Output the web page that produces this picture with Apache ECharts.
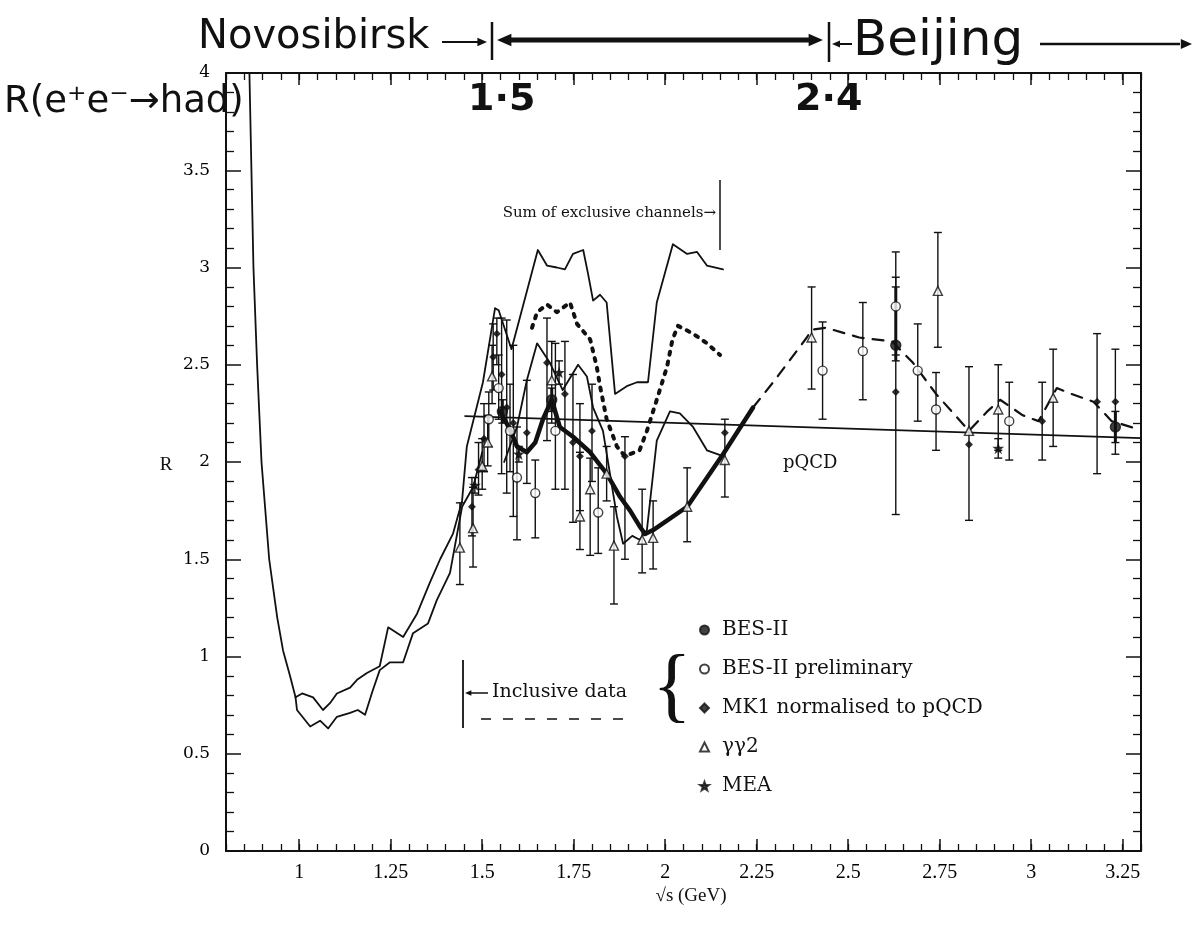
<!DOCTYPE html>
<html><head><meta charset="utf-8">
<script src="https://cdn.jsdelivr.net/npm/echarts@6/dist/echarts.min.js"></script>
<style>html,body{margin:0;padding:0;background:#fff}#c{width:1197px;height:925px}</style>
</head><body><div id="c"></div>
<script>
// ---------- axis ticks ----------
const xMajorTicks = [1, 1.25, 1.5, 1.75, 2, 2.25, 2.5, 2.75, 3, 3.25];
const yTickInterval = 0.5;

// ---------- curves ----------
const inclusiveSteep = [[0.864,4.0],[0.875,3.0],[0.885,2.5],[0.897,2.0],[0.918,1.5],[0.94,1.2],[0.956,1.03],[0.975,0.9],[0.99,0.79]];
const inclusiveUpper = [[0.99,0.79],[1.008,0.81],[1.038,0.79],[1.065,0.725],[1.084,0.76],[1.103,0.81],[1.139,0.84],[1.158,0.88],[1.185,0.915],[1.22,0.95],[1.243,1.15],[1.284,1.10],[1.322,1.22],[1.357,1.38],[1.385,1.50],[1.42,1.63],[1.445,1.80],[1.458,2.08],[1.502,2.41],[1.535,2.79]];
const inclusiveLower = [[0.99,0.79],[0.994,0.725],[1.03,0.64],[1.057,0.67],[1.079,0.63],[1.103,0.69],[1.139,0.71],[1.16,0.725],[1.18,0.70],[1.20,0.82],[1.22,0.93],[1.248,0.97],[1.284,0.97],[1.311,1.12],[1.352,1.17],[1.376,1.29],[1.412,1.43],[1.445,1.77],[1.475,1.87],[1.50,2.05]];
const exclusiveUpper = [[1.535,2.79],[1.545,2.78],[1.58,2.58],[1.652,3.09],[1.677,3.01],[1.704,3.0],[1.726,2.99],[1.748,3.07],[1.776,3.09],[1.789,2.97],[1.803,2.83],[1.822,2.86],[1.84,2.82],[1.863,2.35],[1.895,2.39],[1.923,2.41],[1.953,2.41],[1.977,2.82],[2.021,3.12],[2.06,3.07],[2.087,3.08],[2.114,3.01],[2.158,2.99]];
const exclusiveLower = [[1.56,2.0],[1.595,2.18],[1.622,2.42],[1.65,2.61],[1.685,2.51],[1.72,2.37],[1.762,2.50],[1.786,2.44],[1.803,2.28],[1.83,2.16],[1.849,1.94],[1.868,1.72],[1.885,1.58],[1.91,1.62],[1.93,1.60],[1.95,1.65],[1.977,2.11],[2.013,2.26],[2.04,2.25],[2.076,2.18],[2.114,2.06],[2.158,2.03]];
const exclusiveDotted = [[1.636,2.69],[1.65,2.77],[1.677,2.81],[1.704,2.77],[1.74,2.82],[1.759,2.71],[1.795,2.63],[1.813,2.49],[1.822,2.39],[1.84,2.22],[1.868,2.08],[1.89,2.03],[1.93,2.06],[1.95,2.16],[1.977,2.32],[2.005,2.49],[2.02,2.63],[2.035,2.70],[2.076,2.66],[2.114,2.61],[2.15,2.55]];
const besFit = [[1.55,2.26],[1.58,2.15],[1.595,2.08],[1.622,2.05],[1.645,2.10],[1.666,2.22],[1.69,2.32],[1.712,2.18],[1.748,2.13],[1.795,2.05],[1.84,1.94],[1.877,1.82],[1.904,1.75],[1.93,1.67],[1.945,1.63],[1.967,1.65],[2.06,1.77],[2.158,2.04],[2.24,2.28]];
const besFitDashed = [[2.24,2.28],[2.295,2.41],[2.387,2.64],[2.40,2.68],[2.44,2.69],[2.53,2.64],[2.62,2.62],[2.677,2.51],[2.74,2.35],[2.797,2.23],[2.83,2.16],[2.88,2.26],[2.915,2.32],[2.977,2.24],[3.02,2.21],[3.07,2.38],[3.11,2.35],[3.17,2.31],[3.22,2.21],[3.29,2.17]];
const pqcdLine = [[1.453,2.236],[3.3,2.123]];

// ---------- data points: [x, y, low, high] ----------
const besII = [[1.555,2.26,2.20,2.32],[1.69,2.32,2.26,2.38],[2.63,2.60,2.52,2.90],[3.23,2.18,2.10,2.26]];
const besIIPrelim = [[1.518,2.22,2.08,2.36],[1.545,2.38,2.22,2.55],[1.576,2.16,1.95,2.40],[1.595,1.92,1.60,2.18],[1.645,1.84,1.61,2.01],[1.70,2.16,1.86,2.61],[1.817,1.74,1.53,1.97],[2.43,2.47,2.22,2.72],[2.54,2.57,2.32,2.82],[2.63,2.80,2.55,3.08],[2.69,2.47,2.21,2.71],[2.74,2.27,2.06,2.46],[2.94,2.21,2.01,2.41]];
const mk1 = [[1.472,1.77,1.62,1.92],[1.49,1.96,1.83,2.10],[1.505,2.12,1.95,2.30],[1.53,2.54,2.37,2.71],[1.54,2.66,2.50,2.74],[1.553,2.45,1.94,2.74],[1.567,2.28,1.84,2.73],[1.585,2.20,1.72,2.60],[1.622,2.15,1.89,2.42],[1.677,2.51,2.11,2.74],[1.726,2.35,1.86,2.62],[1.748,2.10,1.69,2.45],[1.767,2.03,1.75,2.30],[1.80,2.16,1.90,2.40],[1.89,2.03,1.50,2.13],[2.163,2.15,2.15,2.15],[2.63,2.36,1.73,2.95],[2.83,2.09,1.70,2.49],[3.03,2.21,2.01,2.41],[3.18,2.31,1.94,2.66],[3.23,2.31,2.04,2.58]];
const gg2 = [[1.439,1.56,1.37,1.79],[1.475,1.66,1.46,1.87],[1.50,1.98,1.86,2.12],[1.515,2.10,1.98,2.24],[1.527,2.44,2.30,2.60],[1.69,2.42,2.20,2.62],[1.767,1.72,1.55,2.05],[1.795,1.86,1.52,2.02],[1.84,1.94,1.80,2.08],[1.86,1.57,1.27,1.77],[1.937,1.60,1.43,1.86],[1.967,1.61,1.45,1.80],[2.06,1.77,1.59,1.97],[2.163,2.01,1.82,2.22],[2.40,2.64,2.375,2.90],[2.745,2.88,2.59,3.18],[2.83,2.16,2.16,2.16],[2.91,2.27,2.06,2.50],[3.06,2.33,2.08,2.58]];
const mea = [[1.48,1.88,1.84,1.92],[1.60,2.04,2.00,2.08],[1.71,2.46,2.40,2.52],[2.91,2.07,2.02,2.12]];

// ---------- build ----------
const INK = '#111';
const SERIF = '"DejaVu Serif", serif';
const HAND = '"DejaVu Sans", sans-serif';
const STAR = 'path://M0,-10 L2.35,-3.24 9.51,-3.09 3.8,1.24 5.88,8.09 0,4 -5.88,8.09 -3.8,1.24 -9.51,-3.09 -2.35,-3.24Z';

function lineSeries(data, width, type, z) {
  return {type:'line', data, symbol:'none', silent:true, z:z||3, clip:true,
    lineStyle:{color:INK, width, type:type||'solid', cap:'round', join:'round'}};
}
function errSeries(data, w) {
  return {type:'custom', silent:true, z:4, data, encode:{x:0, y:[2,3]},
    renderItem(params, api) {
      const x = api.value(0), lo = api.value(2), hi = api.value(3);
      if (hi <= lo) return {type:'group', children:[]};
      const a = api.coord([x, lo]), b = api.coord([x, hi]);
      const st = {stroke:INK, lineWidth:w};
      return {type:'group', children:[
        {type:'line', shape:{x1:a[0], y1:a[1], x2:b[0], y2:b[1]}, style:st},
        {type:'line', shape:{x1:a[0]-4, y1:a[1], x2:a[0]+4, y2:a[1]}, style:{stroke:INK, lineWidth:1.4}},
        {type:'line', shape:{x1:b[0]-4, y1:b[1], x2:b[0]+4, y2:b[1]}, style:{stroke:INK, lineWidth:1.4}}
      ]};
    }};
}
function pts(arr){ return arr.map(d => [d[0], d[1]]); }
function scatter(name, arr, symbol, size, fill) {
  return {type:'scatter', name, data:pts(arr), symbol, symbolSize:size, z:6, silent:true,
    itemStyle:{color:fill, borderColor:INK, borderWidth:1.4}};
}

function xAx(pos, major) {
  const o = {type:'value', min:0.8, max:3.3, position:pos, splitLine:{show:false},
    axisLine:{show:major, onZero:false, lineStyle:{color:INK, width:2}}};
  if (major) {
    o.axisTick = {show:true, inside:true, length:12, customValues:xMajorTicks, lineStyle:{color:INK, width:1.5}};
    o.axisLabel = {show:pos==='bottom', customValues:xMajorTicks, margin:12, color:'#000',
      fontFamily:'"Liberation Serif", serif', fontSize:20};
  } else {
    o.interval = 0.05;
    o.axisTick = {show:true, inside:true, length:7, lineStyle:{color:INK, width:1.3}};
    o.axisLabel = {show:false};
  }
  return o;
}
function yAx(pos) {
  return {type:'value', min:0, max:4, interval:yTickInterval, position:pos, splitLine:{show:false},
    axisLine:{show:true, onZero:false, lineStyle:{color:INK, width:2}},
    axisTick:{show:true, inside:true, length:15, lineStyle:{color:INK, width:1.5}},
    minorTick:{show:true, splitNumber:5, length:8, lineStyle:{color:INK, width:1.3}},
    axisLabel:{show:pos==='left', margin:16, color:'#000', fontFamily:SERIF, fontSize:17}};
}

function arrowHead(x, y, dir, s) {
  return {type:'polygon', shape:{points:[[x,y],[x-dir*s*1.6,y-s*0.7],[x-dir*s*1.6,y+s*0.7]]}, style:{fill:INK}};
}
function gline(x1,y1,x2,y2,w,dash){ return {type:'line', shape:{x1,y1,x2,y2}, style:{stroke:INK, lineWidth:w, lineDash:dash||null}}; }
function gtext(text,x,y,font,align){ return {type:'text', x, y, style:{text, font, fill:INK, textAlign:align||'left', textVerticalAlign:'middle'}}; }

const chart = echarts.init(document.getElementById('c'), null, {renderer:'canvas'});
chart.setOption({
  animation:false,
  backgroundColor:'#fff',
  grid:{left:226, right:56, top:73, bottom:74},
  xAxis:[xAx('bottom',true), xAx('bottom',false), xAx('top',true), xAx('top',false)],
  yAxis:[yAx('left'), yAx('right')],
  legend:{orient:'vertical', left:694, top:615, itemGap:19, itemWidth:9, itemHeight:9,
    data:['BES-II','BES-II preliminary','MK1 normalised to pQCD','\u03b3\u03b32','MEA'],
    textStyle:{fontFamily:SERIF, fontSize:20, color:INK, padding:[0,0,0,8]}},
  series:[
    lineSeries(inclusiveSteep,1.8),
    lineSeries(inclusiveUpper,1.8),
    lineSeries(inclusiveLower,1.8),
    lineSeries(exclusiveUpper,1.8),
    lineSeries(exclusiveLower,1.8),
    lineSeries(exclusiveDotted,4,[3,7]),
    lineSeries(pqcdLine,1.6),
    lineSeries(besFit,4.5,'solid',5),
    lineSeries(besFitDashed,2.2,[11,9]),
    errSeries(besIIPrelim,1.4), errSeries(mk1,1.4), errSeries(gg2,1.4), errSeries(mea,1.4), errSeries(besII,3),
    scatter('BES-II', besII, 'circle', 10, INK),
    scatter('BES-II preliminary', besIIPrelim, 'circle', 9, '#fff'),
    scatter('MK1 normalised to pQCD', mk1, 'diamond', 6, INK),
    scatter('\u03b3\u03b32', gg2, 'triangle', 9, '#fff'),
    scatter('MEA', mea, STAR, 8, INK)
  ],
  graphic:{elements:[
    gtext('Novosibirsk', 198, 38, '40px '+HAND),
    gline(442,42,480,42,2.2), arrowHead(487,42,1,6),
    gline(492,22,492,60,2.5),
    gline(505,40,815,40,5), arrowHead(497,40,-1,9), arrowHead(823,40,1,9),
    gline(829,22,829,62,2.5),
    gline(838,44,852,44,2), arrowHead(832,44,-1,5),
    gtext('Beijing', 853, 42, '50px '+HAND),
    gline(1040,44,1180,44,2.5), arrowHead(1192,44,1,7),
    gtext('1\u00b75', 468, 100, 'bold 38px '+HAND),
    gtext('2\u00b74', 795, 100, 'bold 38px '+HAND),
    gtext('R(e\u207ae\u207b\u2192had)', 4, 102, '37px '+HAND),
    gtext('Sum of exclusive channels\u2192', 716, 213, '15px '+SERIF, 'right'),
    gline(720,180,720,250,1.5),
    gtext('pQCD', 783, 463, '18px '+SERIF),
    gline(463,660,463,728,1.8),
    gline(470,693,488,693,1.5), arrowHead(465,693,-1,4),
    gtext('Inclusive data', 492, 692, '19px '+SERIF),
    gline(481,719,630,719,1.5,[10,12]),
    gtext('{', 672, 690, '82px "Liberation Serif", serif', 'center'),
    gtext('R', 166, 465, '19px "Liberation Serif", serif', 'center'),
    gtext('\u221as (GeV)', 691, 896, '19px "Liberation Serif", serif', 'center')
  ]}
});
</script>
</body></html>
